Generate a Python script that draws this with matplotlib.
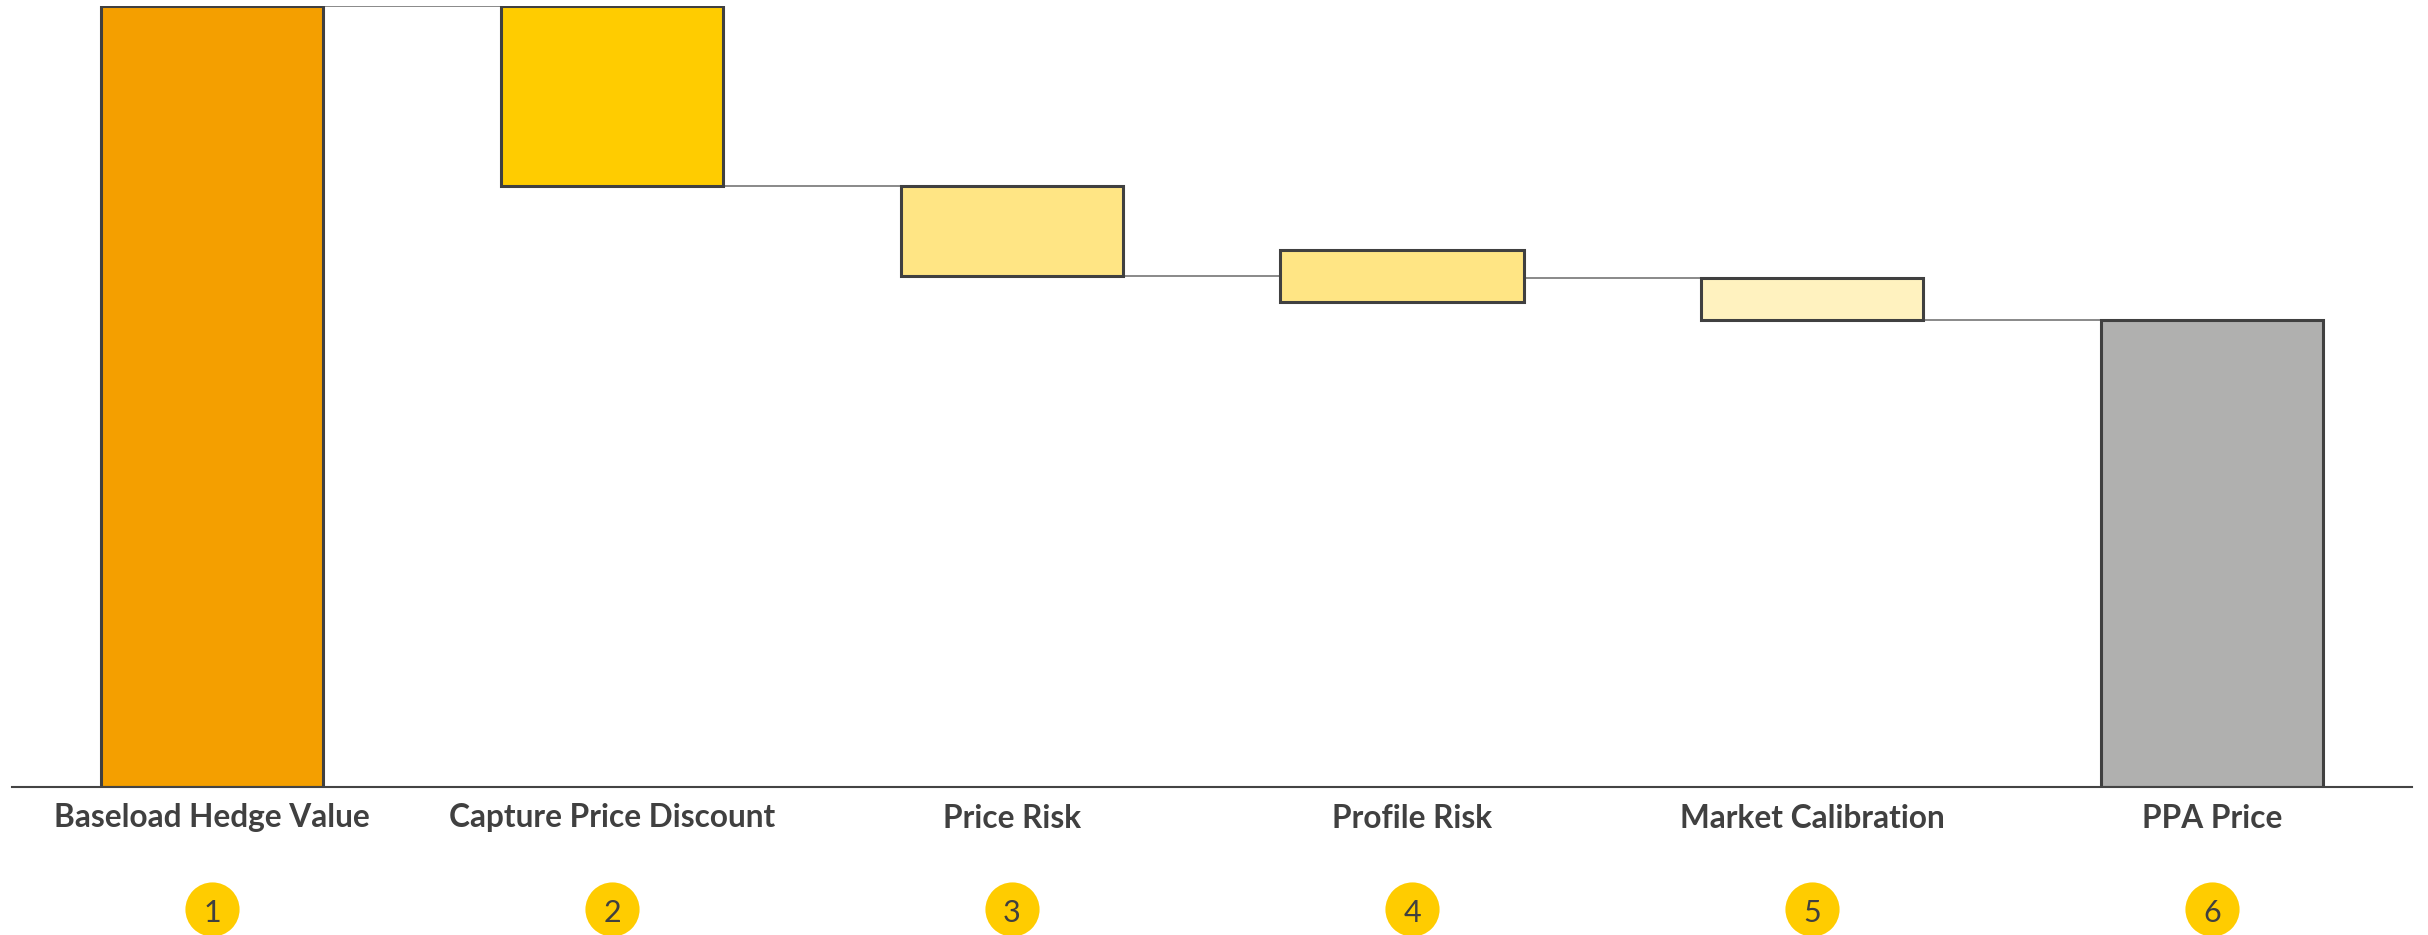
import matplotlib
matplotlib.use("Agg")
import matplotlib.pyplot as plt

# Waterfall from baseload hedge value down to the PPA price
categories = ["Baseload Hedge Value", "Capture Price Discount", "Price Risk",
              "Profile Risk", "Market Calibration", "PPA Price"]
step_numbers = ["1", "2", "3", "4", "5", "6"]
bar_low = [0.0, 76.94, 65.41, 62.11, 59.77, 0.0]
bar_high = [100.0, 100.0, 76.94, 68.74, 65.15, 59.77]
# running level carried from each bar to the next one
connector_levels = [100.0, 76.94, 65.41, 65.15, 59.77]

bar_colors = ["#F49F00", "#FFCC00", "#FFE584", "#FFE584", "#FFF2BF", "#B0B0AF"]
bar_widths = [0.555, 0.555, 0.555, 0.61, 0.555, 0.555]
bar_shift = [0, 0, 0, -0.025, 0, 0]

W, H, DPI = 2428, 935, 100
fig = plt.figure(figsize=(W / DPI, H / DPI), dpi=DPI)
ax_left, ax_right = 12 / W, 2412 / W
ax_bottom = (H - 786.5) / H
ax_top = (H - 6) / H
ax = fig.add_axes([ax_left, ax_bottom, ax_right - ax_left, ax_top - ax_bottom])

x = list(range(len(categories)))
bar_x = [xi + s for xi, s in zip(x, bar_shift)]
heights = [h - l for h, l in zip(bar_high, bar_low)]
ax.bar(bar_x, heights, bottom=bar_low, width=bar_widths, color=bar_colors,
       edgecolor="#404040", linewidth=2.2, zorder=3)

# thin connectors from the right edge of one bar to the left edge of the next
for i, level in enumerate(connector_levels):
    x0 = bar_x[i] + bar_widths[i] / 2
    x1 = bar_x[i + 1] - bar_widths[i + 1] / 2
    ax.plot([x0, x1], [level, level], color="#6a6a6a", lw=1.1, zorder=2)

ax.set_xlim(-0.5, len(categories) - 0.5)
ax.set_ylim(0, 100)
for side in ("left", "right", "top"):
    ax.spines[side].set_visible(False)
ax.spines["bottom"].set_color("#444444")
ax.spines["bottom"].set_linewidth(1.5)
ax.spines["bottom"].set_zorder(4)
ax.set_xticks([])
ax.set_yticks([])

trans = ax.get_xaxis_transform()
axes_px = 780.5
for xi, name in zip(x, categories):
    ax.text(xi, -41.0 / axes_px, name, transform=trans, ha="center", va="baseline",
            fontsize=22.8, fontweight="bold", family="Lato", color="#404040")

ax.plot(x, [-122.5 / axes_px] * len(x), "o", transform=trans, clip_on=False,
        ms=39, color="#FFCC00", mec="none")
for xi, num in zip(x, step_numbers):
    ax.text(xi, -135.5 / axes_px, num, transform=trans, ha="center", va="baseline",
            fontsize=22, family="Lato", color="#404040")

fig.savefig("out.png", dpi=DPI)
